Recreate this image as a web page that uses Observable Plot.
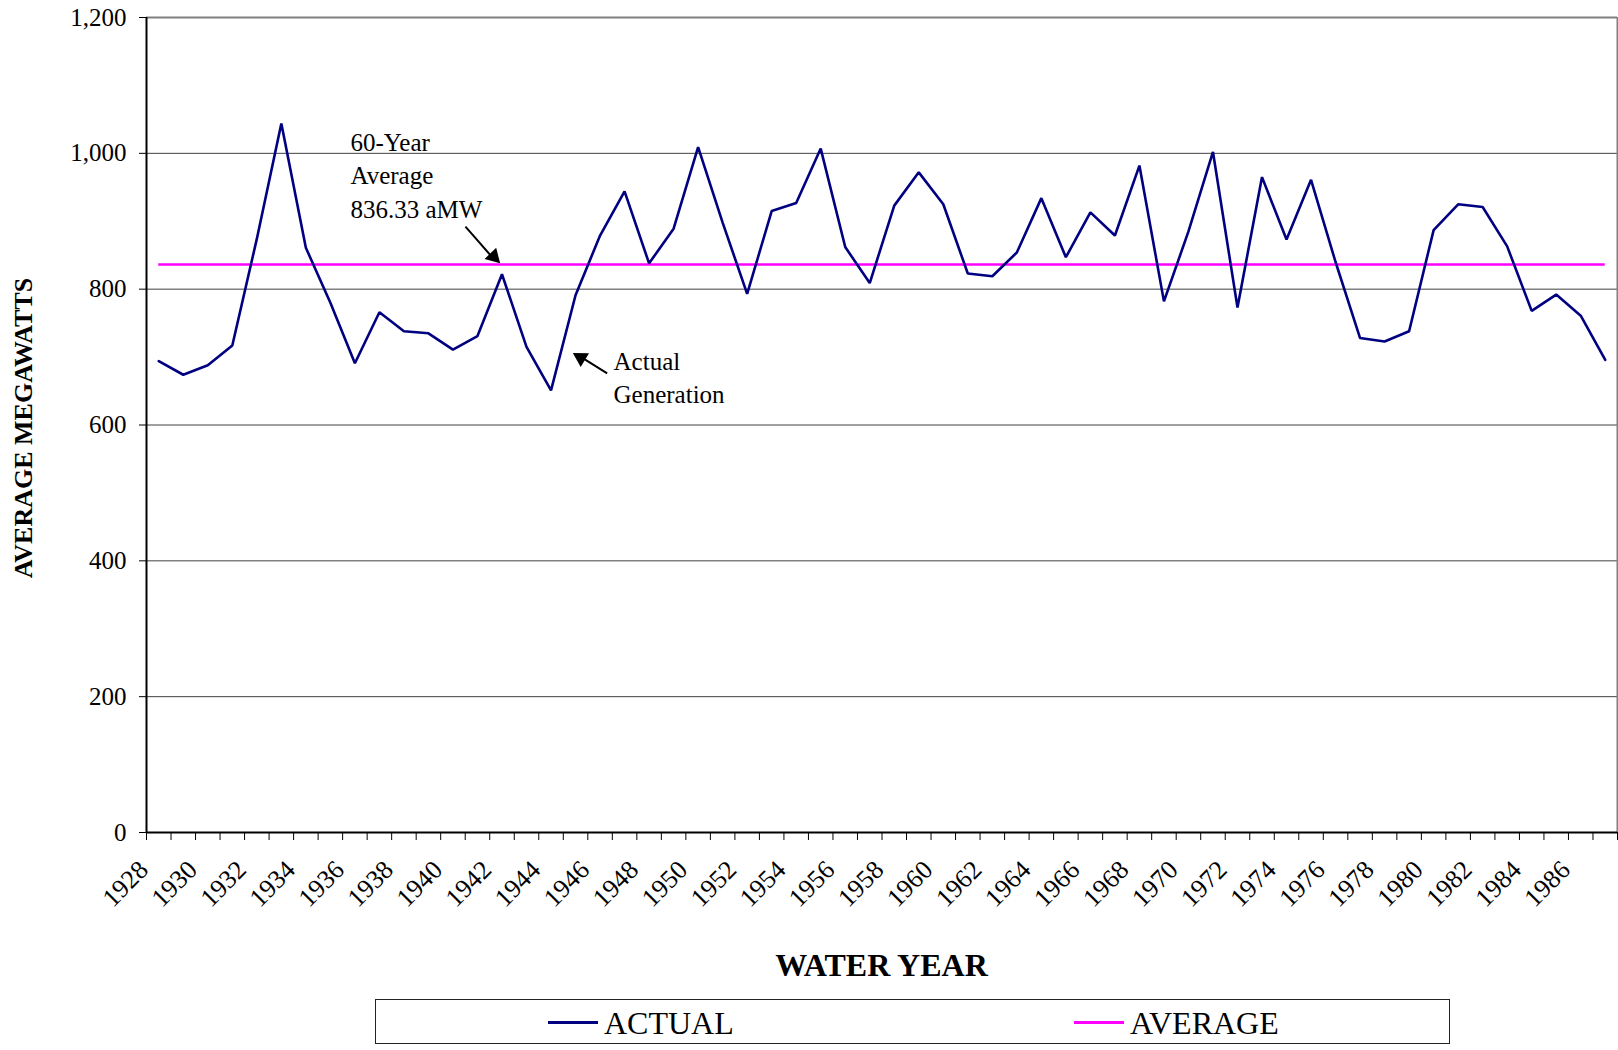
<!DOCTYPE html>
<html>
<head>
<meta charset="utf-8">
<script src="https://cdn.jsdelivr.net/npm/d3@7"></script>
<script src="https://cdn.jsdelivr.net/npm/@observablehq/plot@0.6"></script>
<style>
  html, body { margin: 0; padding: 0; background: #fff; }
  body { width: 1618px; height: 1050px; position: relative; overflow: hidden;
         font-family: "Liberation Serif", "Times New Roman", serif; color: #000; }
  #chart { position: absolute; left: 0; top: 0; }
  .xtitle { position: absolute; left: 146px; width: 1471px; top: 949px; text-align: center;
            font-size: 32px; line-height: 32px; font-weight: bold; }
  .legend { position: absolute; left: 375px; top: 999px; width: 1073px; height: 43px;
            border: 1px solid #222; box-sizing: content-box; }
  .sw { position: absolute; height: 3px; width: 50px; top: 21px; }
  .lt { position: absolute; top: 7px; font-size: 32px; line-height: 32px; white-space: nowrap; }
</style>
</head>
<body>
<div id="chart"></div>
<div class="xtitle">WATER YEAR</div>
<div class="legend" id="legend"></div>
<script>
// ---- data ----
const years = [1928,1929,1930,1931,1932,1933,1934,1935,1936,1937,
               1938,1939,1940,1941,1942,1943,1944,1945,1946,1947,
               1948,1949,1950,1951,1952,1953,1954,1955,1956,1957,
               1958,1959,1960,1961,1962,1963,1964,1965,1966,1967,
               1968,1969,1970,1971,1972,1973,1974,1975,1976,1977,
               1978,1979,1980,1981,1982,1983,1984,1985,1986,1987];
const actual = [694,674,688,717,874,1044,861,780,691,766,
                738,735,711,731,822,715,651,791,879,944,
                838,889,1009,898,793,915,927,1007,862,809,
                923,972,925,823,819,854,934,847,913,879,
                982,782,885,1002,773,965,873,961,840,728,
                723,738,887,925,921,863,768,792,761,696];
const average = 836.33;
const tickYears = ["1928","1930","1932","1934","1936","1938","1940","1942","1944","1946",
                   "1948","1950","1952","1954","1956","1958","1960","1962","1964","1966",
                   "1968","1970","1972","1974","1976","1978","1980","1982","1984","1986"];
const yTicks = [0,200,400,600,800,1000,1200];
const seriesNames = ["ACTUAL","AVERAGE"];
const seriesColors = ["#000080","#FF00FF"];

const rows = years.map((y, i) => ({year: y, value: actual[i]}));
const boundaries = [...years.map(y => y - 0.5), years[years.length - 1] + 0.5];
const xMin = boundaries[0], xMax = boundaries[boundaries.length - 1];

const font = '"Liberation Serif", "Times New Roman", serif';

const chart = Plot.plot({
  width: 1618,
  height: 940,
  marginLeft: 146,
  marginRight: 1,
  marginTop: 17,
  marginBottom: 108,
  style: {fontFamily: font, background: "#fff", overflow: "visible", color: "#000"},
  x: {type: "linear", domain: [xMin, xMax]},
  y: {domain: [0, 1200]},
  marks: [
    Plot.gridY(yTicks.filter(d => d > 0 && d < 1200), {stroke: "#404040", strokeOpacity: 1, strokeWidth: 1}),
    Plot.ruleY([1200], {stroke: "#808080", strokeWidth: 2}),
    Plot.ruleX([xMax], {stroke: "#808080", strokeWidth: 2}),
    Plot.axisY({ticks: yTicks, tickSize: 7, tickPadding: 13, tickFormat: d3.format(","),
                fontSize: 25, label: null, stroke: "#000"}),
    Plot.axisX({ticks: boundaries, tickSize: 8, tickFormat: () => "", label: null, stroke: "#000"}),
    Plot.text(tickYears, {x: d => +d, text: d => d, frameAnchor: "bottom", rotate: -45, textAnchor: "end",
                          lineAnchor: "middle", dx: -15, dy: 33, fontSize: 26, fill: "#000"}),
    Plot.text(["AVERAGE MEGAWATTS"], {frameAnchor: "left", rotate: -90, textAnchor: "middle",
                          lineAnchor: "middle", dx: -123, dy: 3,
                          fontSize: 26, fontWeight: "bold", fill: "#000"}),
    Plot.ruleY([average], {x1: years[0], x2: years[years.length - 1], stroke: seriesColors[1], strokeWidth: 2.5}),
    Plot.line(rows, {x: "year", y: "value", stroke: seriesColors[0], strokeWidth: 2.6, strokeLinejoin: "miter"}),
    Plot.ruleX([xMin], {stroke: "#000", strokeWidth: 2}),
    Plot.ruleY([0], {stroke: "#000", strokeWidth: 2}),
    // annotations
    Plot.text(["60-Year\nAverage\n836.33 aMW"], {x: 1935.82, y: 1038, textAnchor: "start", lineAnchor: "top",
                          lineHeight: 1.33, fontSize: 25, fill: "#000"}),
    Plot.text(["Actual\nGeneration"], {x: 1946.55, y: 716, textAnchor: "start", lineAnchor: "top",
                          lineHeight: 1.32, fontSize: 25, fill: "#000"}),
    Plot.link([0], {x1: 1940.51, y1: 892, x2: 1941.7, y2: 843, stroke: "#000", strokeWidth: 2}),
    Plot.dot([0], {x: 1941.92, y: 838, symbol: "triangle", r: 6, fill: "#000", stroke: "none",
                   rotate: 136, dx: -6.4, dy: -6.7}),
    Plot.link([0], {x1: 1946.29, y1: 676, x2: 1945.1, y2: 703, stroke: "#000", strokeWidth: 2}),
    Plot.dot([0], {x: 1944.89, y: 706, symbol: "triangle", r: 6, fill: "#000", stroke: "none",
                   rotate: -59, dx: 8.0, dy: 4.7})
  ]
});
document.getElementById("chart").appendChild(chart);

// legend
const legend = document.getElementById("legend");
const legendPos = [{sw: 172, tx: 228}, {sw: 698, tx: 754}];
seriesNames.forEach((name, i) => {
  const sw = document.createElement("div");
  sw.className = "sw";
  sw.style.left = legendPos[i].sw + "px";
  sw.style.background = seriesColors[i];
  legend.appendChild(sw);
  const t = document.createElement("div");
  t.className = "lt";
  t.style.left = legendPos[i].tx + "px";
  t.textContent = name;
  legend.appendChild(t);
});
</script>
</body>
</html>
